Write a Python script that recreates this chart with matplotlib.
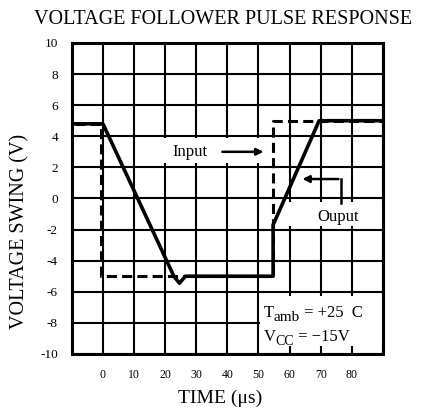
import matplotlib.pyplot as plt
from matplotlib.patches import Rectangle

plt.rcParams['font.family'] = ['Liberation Serif', 'DejaVu Serif']

# input pulse (dashed) and output (solid), time in us, volts
in_t = [-9, -0.5, -0.5, 54.7, 54.7, 90]
in_v = [4.8, 4.8, -5, -5, 5, 5]
out_t = [-9, 0, 22.8, 24.6, 26.5, 54.7, 54.7, 69.5, 90]
out_v = [4.8, 4.8, -5, -5.45, -5, -5, -1.7, 5, 5]

xticks = list(range(-10, 91, 10))
xlabels = ['', '0', '10', '20', '30', '40', '50', '60', '70', '80', '']
yticks = list(range(-10, 11, 2))

fig = plt.figure(figsize=(4.25, 4.09), dpi=100)
ax = fig.add_axes([0.169, 0.1345, 0.732, 0.7605])
ax.set_xlim(-10, 90)
ax.set_ylim(-10, 10)
ax.set_xticks(xticks)
ax.set_xticklabels(xlabels, fontsize=8.5)
ax.set_yticks(yticks)
ax.set_yticklabels([str(v) for v in yticks], fontsize=9.5)
ax.tick_params(length=0)
ax.tick_params(axis='x', pad=11)
ax.tick_params(axis='y', pad=10)
ax.set_axisbelow(True)
ax.grid(True, color='black', lw=1.5)
for s in ax.spines.values():
    s.set_linewidth(2.2)

# white areas behind the labels
ax.add_patch(Rectangle((12, 2.25), 41.5, 1.65, facecolor='white', edgecolor='none', zorder=1))
ax.add_patch(Rectangle((57, -1.8), 33, 1.6, facecolor='white', edgecolor='none', zorder=1))
ax.add_patch(Rectangle((50.4, -9.5), 39.6, 3.2, facecolor='white', edgecolor='none', zorder=1))

ax.plot(in_t, in_v, color='black', lw=2.2, dashes=(3.3, 1.7), zorder=3)
ax.plot(out_t, out_v, color='black', lw=2.6, zorder=4)

ax.text(28, 3.0, 'Input', fontsize=12, ha='center', va='center')
ax.annotate('', xy=(52.5, 3.0), xytext=(37.5, 3.0),
            arrowprops=dict(arrowstyle='-|>', lw=1.8, color='black', mutation_scale=10))

ax.text(75.7, -1.2, 'Ouput', fontsize=12, ha='center', va='center')
ax.plot([76.4, 76.4], [-0.3, 1.25], color='black', lw=1.8)
ax.annotate('', xy=(63.2, 1.25), xytext=(76.6, 1.25),
            arrowprops=dict(arrowstyle='-|>', lw=1.8, color='black', mutation_scale=10))

# conditions box text, subscripts as separate pieces
t1 = ax.text(51.6, -7.65, 'T', fontsize=12, ha='left', va='baseline')
t2 = ax.annotate('amb', xy=(1, 0), xycoords=t1, xytext=(0, -2),
                 textcoords='offset points', fontsize=11, va='bottom')
ax.annotate(' = +25  C', xy=(1, 0), xycoords=t2, xytext=(0, 2),
            textcoords='offset points', fontsize=12, va='bottom')
v1 = ax.text(51.6, -9.15, 'V', fontsize=12, ha='left', va='baseline')
v2 = ax.annotate('CC', xy=(1, 0), xycoords=v1, xytext=(0, -2),
                 textcoords='offset points', fontsize=10, va='bottom')
ax.annotate(' = \u221215V', xy=(1, 0), xycoords=v2, xytext=(0, 2),
            textcoords='offset points', fontsize=12, va='bottom')

fig.text(0.524, 1 - 20 / 409, 'VOLTAGE FOLLOWER PULSE RESPONSE', fontsize=14.5,
         ha='center', va='center')
fig.text(0.047, 0.433, 'VOLTAGE SWING (V)', fontsize=14.5, rotation=90,
         ha='center', va='center')
fig.text(0.518, 1 - 398 / 409, 'TIME (μs)', fontsize=14, ha='center', va='center')

fig.savefig('out.png', dpi=100)
